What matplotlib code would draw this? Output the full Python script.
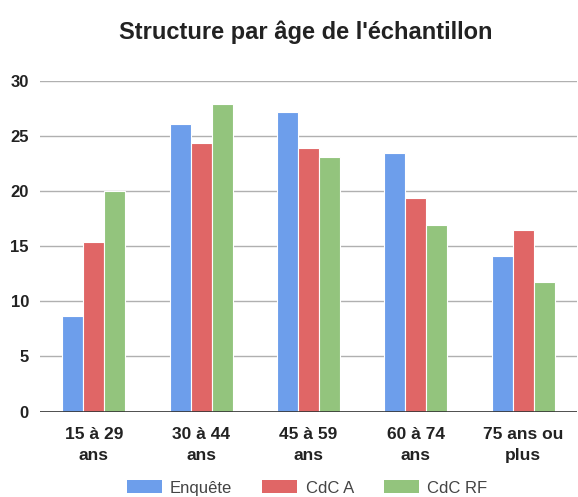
import matplotlib.pyplot as plt
from matplotlib.patches import Patch
import numpy as np

plt.rcParams['font.family'] = ['Liberation Sans', 'DejaVu Sans']

categories = ['15 à 29\nans', '30 à 44\nans', '45 à 59\nans', '60 à 74\nans', '75 ans ou\nplus']
series_names = ['Enquête', 'CdC A', 'CdC RF']
enquete = [8.7, 26.1, 27.15, 23.5, 14.1]
cdc_a = [15.4, 24.4, 23.9, 19.4, 16.5]
cdc_rf = [20.0, 27.9, 23.1, 16.9, 11.75]
yticks = [0, 5, 10, 15, 20, 25, 30]

colors = ['#6d9eeb', '#e06666', '#93c47d']

W, H = 578, 497
fig = plt.figure(figsize=(W / 100, H / 100), dpi=100)
ax = fig.add_axes([40 / W, 1 - 411.5 / H, 537 / W, (411.5 - 81) / H])

x = np.arange(len(categories))
width = 0.196
for i, (vals, col) in enumerate(zip([enquete, cdc_a, cdc_rf], colors)):
    ax.bar(x + (i - 1) * width, vals, width, color=col, edgecolor='white',
           linewidth=0.8, zorder=3)

ax.set_xlim(-0.5, len(categories) - 0.5)
ax.set_ylim(0, 30)
ax.set_yticks(yticks)
ax.yaxis.grid(True, color='#b0b0b0', linewidth=1.0, zorder=0)
ax.axhline(0, color='#333333', linewidth=1.2, zorder=4)
for s in ax.spines.values():
    s.set_visible(False)
ax.tick_params(axis='both', length=0)
ax.tick_params(axis='y', pad=8)
ax.tick_params(axis='x', pad=11)
ax.set_xticks(x)
ax.set_xticklabels(categories, fontsize=12.5, fontweight='bold', color='#222222',
                   linespacing=1.55)
for lbl in ax.get_yticklabels():
    lbl.set_fontsize(12)
    lbl.set_fontweight('bold')
    lbl.set_color('#222222')

fig.text(306 / W, 1 - 39 / H, "Structure par âge de l'échantillon",
         ha='center', va='baseline', fontsize=17, fontweight='bold', color='#222222')

handles = [Patch(facecolor=c, edgecolor='none') for c in colors]
leg = fig.legend(handles, series_names, loc='center', ncol=3,
                 bbox_to_anchor=(307 / W, 1 - 488 / H), frameon=False,
                 fontsize=12, handlelength=2.1, handleheight=0.8,
                 handletextpad=0.5, columnspacing=1.8)
for t in leg.get_texts():
    t.set_color('#444444')

fig.savefig('out.png', dpi=100, facecolor='white')
